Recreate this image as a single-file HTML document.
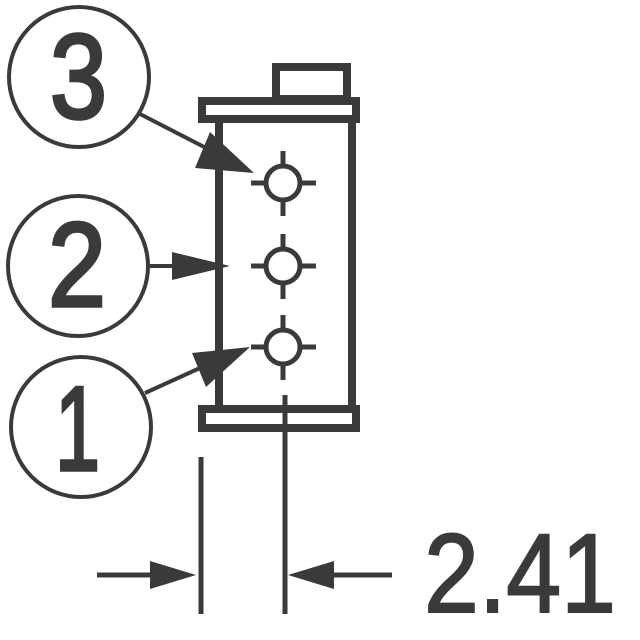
<!DOCTYPE html>
<html><head><meta charset="utf-8"><style>html,body{margin:0;padding:0;background:#fff}svg{display:block}</style></head>
<body>
<svg width="640" height="640" viewBox="0 0 640 640" xmlns="http://www.w3.org/2000/svg">
<g stroke="#3a3a3c" fill="none">
  <circle cx="79" cy="77" r="70" stroke-width="4"/>
  <circle cx="78" cy="266" r="70" stroke-width="4"/>
  <circle cx="81" cy="427" r="70" stroke-width="4"/>
  <rect x="276" y="67" width="71" height="32" stroke-width="8"/>
  <rect x="202" y="101" width="154" height="18" stroke-width="8"/>
  <rect x="202" y="409" width="154" height="19" stroke-width="8"/>
  <line x1="219" y1="119" x2="219" y2="409" stroke-width="8"/>
  <line x1="352" y1="119" x2="352" y2="409" stroke-width="8"/>
  <g stroke-width="5">
    <circle cx="283" cy="183" r="17"/>
    <circle cx="283" cy="266" r="17"/>
    <circle cx="283" cy="347" r="17"/>
    <path d="M251 183h15M300 183h16M283 151v15M283 200v16"/>
    <path d="M251 266h15M300 266h16M283 234v15M283 283v16"/>
    <path d="M251 347h15M300 347h16M283 315v15M283 364v16"/>
  </g>
  <line x1="285" y1="395" x2="285" y2="614" stroke-width="5"/>
  <line x1="201" y1="457" x2="201" y2="614" stroke-width="5"/>
  <line x1="140" y1="114" x2="210" y2="150" stroke-width="4"/>
  <line x1="148" y1="266" x2="180" y2="266" stroke-width="4"/>
  <line x1="145" y1="393" x2="200" y2="368" stroke-width="4"/>
  <line x1="97" y1="575" x2="155" y2="575" stroke-width="5"/>
  <line x1="330" y1="575" x2="392" y2="575" stroke-width="5"/>
</g>
<g fill="#3a3a3c">
  <polygon points="254,173 195,168 210,132"/>
  <polygon points="230,266 172,252 172,280"/>
  <polygon points="250,347 206,387 192,353"/>
  <polygon points="196,575 150,561 150,589"/>
  <polygon points="288,575 334,561 334,589"/>
</g>
<g fill="#3a3a3c" stroke="#3a3a3c" font-family="Liberation Sans, sans-serif">
  <text x="50" y="118" font-size="120" stroke-width="3.5" textLength="57" lengthAdjust="spacingAndGlyphs">3</text>
  <text x="48" y="306" font-size="120" stroke-width="3.5" textLength="58" lengthAdjust="spacingAndGlyphs">2</text>
  <text x="55" y="470" font-size="120" stroke-width="3.5" textLength="45" lengthAdjust="spacingAndGlyphs">1</text>
  <text x="424" y="612" font-size="112" stroke-width="2" textLength="192" lengthAdjust="spacingAndGlyphs">2.41</text>
</g>
</svg>
</body></html>
